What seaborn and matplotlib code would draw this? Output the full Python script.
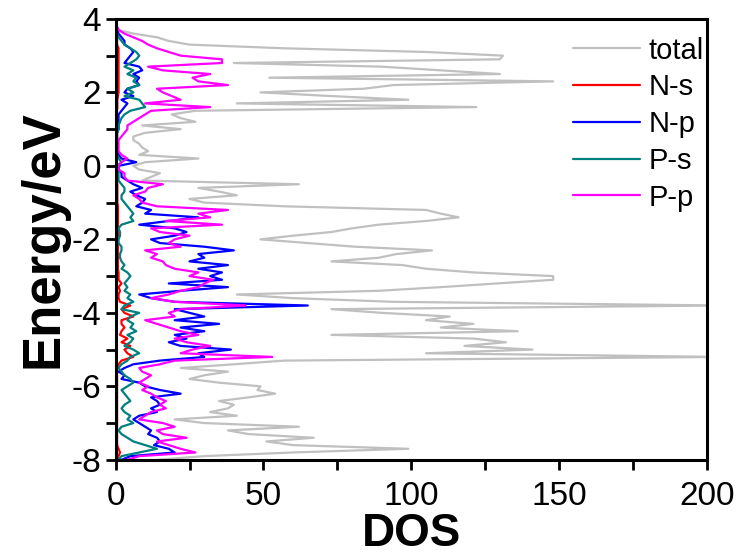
import numpy as np
import pandas as pd
import matplotlib
matplotlib.use("Agg")
import matplotlib.pyplot as plt
import seaborn as sns

# Energia (eV), de -8 a 4, passo de 0.1
energia = np.round(np.arange(-8.0, 4.0001, 0.1), 1)

# DOS (de -8 eV ate 4 eV)
dos_total = [
    14, 30, 60, 99, 60, 51, 67, 45, 38, 62,
    30, 20, 41, 32, 38, 40, 35, 45, 54, 48,
    49, 35, 25, 30, 38, 22, 40, 57, 205, 105,
    141, 118, 132, 121, 73, 136, 110, 121, 105, 113,
    90, 73, 205, 94, 60, 41, 89, 110, 129, 148,
    148, 121, 105, 97, 73, 89, 95, 107, 81, 65,
    49, 60, 73, 80, 89, 105, 116, 110, 105, 57,
    30, 25, 41, 35, 28, 62, 9, 12, 15, 8,
    6, 10, 28, 8, 11, 9, 8, 6, 6, 10,
    22, 9, 27, 22, 19, 27, 122, 41, 99, 73,
    49, 84, 94, 148, 52, 130, 110, 90, 40, 130,
    131, 105, 57, 25, 18, 14, 6, 1, 0, 0, 0,
]
dos_ns = [
    0.5, 1, 1.5, 1, 0.5, 0.5, 0.5, 0.5, 0.5, 0.5,
    0.5, 0.5, 0.5, 0.5, 0.5, 0.5, 0.5, 0.5, 0.5, 0.5,
    0.5, 0.5, 0.5, 0.5, 0.5, 0.5, 1, 2, 6, 4,
    3, 5, 2, 4, 1.5, 2, 3, 2, 2, 6,
    3, 2, 5, 1.5, 1, 1, 1.5, 1, 2, 1,
    1, 1, 0.8, 0.8, 0.8, 0.8, 0.8, 0.8, 0.8, 0.8,
    0.8, 0.8, 0.8, 0.8, 0.8, 0.8, 0.8, 0.8, 0.8, 0.8,
    0.6, 0.6, 0.6, 0.6, 0.6, 0.6, 0.5, 0.4, 0.4, 0.3,
    0.3, 0.3, 0.3, 0.3, 0.3, 0.3, 0.3, 0.3, 0.3, 0.3,
    0.3, 0.3, 0.3, 0.3, 0.3, 0.5, 0.6, 0.6, 0.6, 0.8,
    1, 1, 1, 1, 1, 1, 1, 1, 1, 1,
    1, 1, 1, 0.5, 0.5, 0.5, 0.5, 0.3, 0.2, 0.1, 0,
]
dos_np = [
    2, 5, 20, 18, 13, 15, 14, 11, 12, 10,
    8, 6, 8, 14, 12, 15, 14, 12, 22, 15,
    10, 8, 2, 3, 1, 3, 6, 15, 30, 28,
    39, 22, 18, 24, 20, 30, 22, 35, 20, 30,
    25, 20, 65, 20, 12, 8, 22, 38, 18, 36,
    32, 36, 28, 38, 25, 30, 28, 40, 30, 15,
    12, 20, 24, 20, 8, 18, 28, 10, 12, 7,
    9, 10, 7, 5, 9, 6, 4, 2, 2, 1,
    1, 7, 2, 1, 0.5, 0.5, 0.5, 0.5, 0.5, 0.5,
    1, 1, 1, 1, 1, 2, 3, 4, 2, 6,
    3, 4, 8, 7, 8, 6, 9, 8, 3, 4,
    5, 6, 5, 3, 3, 2, 1, 0.5, 0.3, 0.2, 0,
]
dos_ps = [
    1, 2, 8, 14, 10, 6, 4, 2, 1, 2,
    6, 4, 5, 3, 2, 3, 5, 4, 3, 2,
    4, 6, 5, 3, 2, 1, 2, 4, 5, 8,
    6, 3, 5, 6, 4, 7, 5, 6, 4, 5,
    8, 2, 3, 6, 4, 5, 3, 4, 3, 4,
    5, 4, 2, 3, 2, 1.5, 1.5, 2, 2, 1,
    1, 1.5, 1.5, 1, 2, 6, 5, 6, 5, 4,
    3, 2, 2, 3, 3, 2, 1, 1, 1, 1,
    0.5, 2, 1, 0.5, 0.5, 0.5, 0.5, 0.5, 0.5, 0.5,
    1, 1, 1.5, 2, 3, 5, 10, 9, 8, 3,
    6, 4, 8, 6, 7, 4, 6, 3, 5, 7,
    8, 7, 5, 3, 2, 1, 0.5, 0.3, 0.2, 0.1, 0,
]
dos_pp = [
    4, 8, 27, 22, 18, 14, 24, 16, 14, 20,
    16, 8, 10, 12, 17, 15, 17, 14, 12, 9,
    11, 8, 10, 12, 9, 8, 15, 20, 53, 22,
    26, 32, 24, 20, 28, 22, 18, 14, 10, 20,
    18, 22, 44, 20, 12, 18, 22, 28, 30, 33,
    25, 28, 20, 17, 16, 12, 14, 10, 22, 18,
    20, 25, 15, 12, 36, 17, 32, 28, 38, 14,
    9, 8, 6, 10, 11, 16, 4, 3, 3, 1,
    1, 2, 4, 2, 1, 1, 1, 1, 2, 3,
    4, 4, 6, 8, 10, 12, 32, 10, 22, 19,
    16, 14, 38, 28, 26, 32, 16, 11, 36, 36,
    22, 18, 14, 11, 9, 6, 3, 1, 0.5, 0.3, 0,
]

rotulos = ["total", "N-s", "N-p", "P-s", "P-p"]
cores = ["#c0c0c0", "#ff0000", "#0000ff", "#008080", "#ff00ff"]
series = [dos_total, dos_ns, dos_np, dos_ps, dos_pp]

# tabela longa para o seaborn
df = pd.concat(
    [pd.DataFrame({"Energy": energia, "DOS": s, "orbital": r}) for s, r in zip(series, rotulos)],
    ignore_index=True,
)

sns.set_style("ticks")
plt.rcParams["font.family"] = ["Liberation Sans", "DejaVu Sans"]
plt.rcParams["text.color"] = "black"
plt.rcParams["axes.labelcolor"] = "black"
plt.rcParams["xtick.color"] = "black"
plt.rcParams["ytick.color"] = "black"

fig = plt.figure(figsize=(7.41, 5.56), dpi=100)
ax = fig.add_axes([0.156, 0.173, 0.798, 0.793])

sns.lineplot(
    data=df, x="DOS", y="Energy", hue="orbital", hue_order=rotulos,
    palette=dict(zip(rotulos, cores)), orient="y", estimator=None,
    linewidth=1.6, ax=ax,
)

ax.set_xlim(0, 200)
ax.set_ylim(-8, 4)
ax.set_xticks([0, 50, 100, 150, 200])
ax.set_xticks([25, 75, 125, 175], minor=True)
ax.set_yticks([-8, -6, -4, -2, 0, 2, 4])
ax.set_yticks([-7, -5, -3, -1, 1, 3], minor=True)
ax.set_xticklabels(["0", "50", "100", "150", "200"])
ax.set_yticklabels(["-8", "-6", "-4", "-2", "0", "2", "4"])
ax.tick_params(axis="both", which="both", direction="out", width=2, length=7,
               labelsize=24, top=False, right=False)
ax.tick_params(axis="x", pad=8)
for sp in ax.spines.values():
    sp.set_linewidth(2.2)
    sp.set_color("black")

ax.set_xlabel("DOS", fontsize=33, fontweight="bold", labelpad=0)
ax.set_ylabel("Energy/eV", fontsize=38, fontweight="bold", labelpad=2)

leg = ax.legend(
    loc="upper right", bbox_to_anchor=(0.995, 0.96), frameon=False,
    fontsize=21, handlelength=2.3, handletextpad=0.3, labelspacing=0.3,
    borderpad=0, borderaxespad=0,
)
for linha in leg.get_lines():
    linha.set_linewidth(1.6)

fig.savefig("out.png", dpi=100)
